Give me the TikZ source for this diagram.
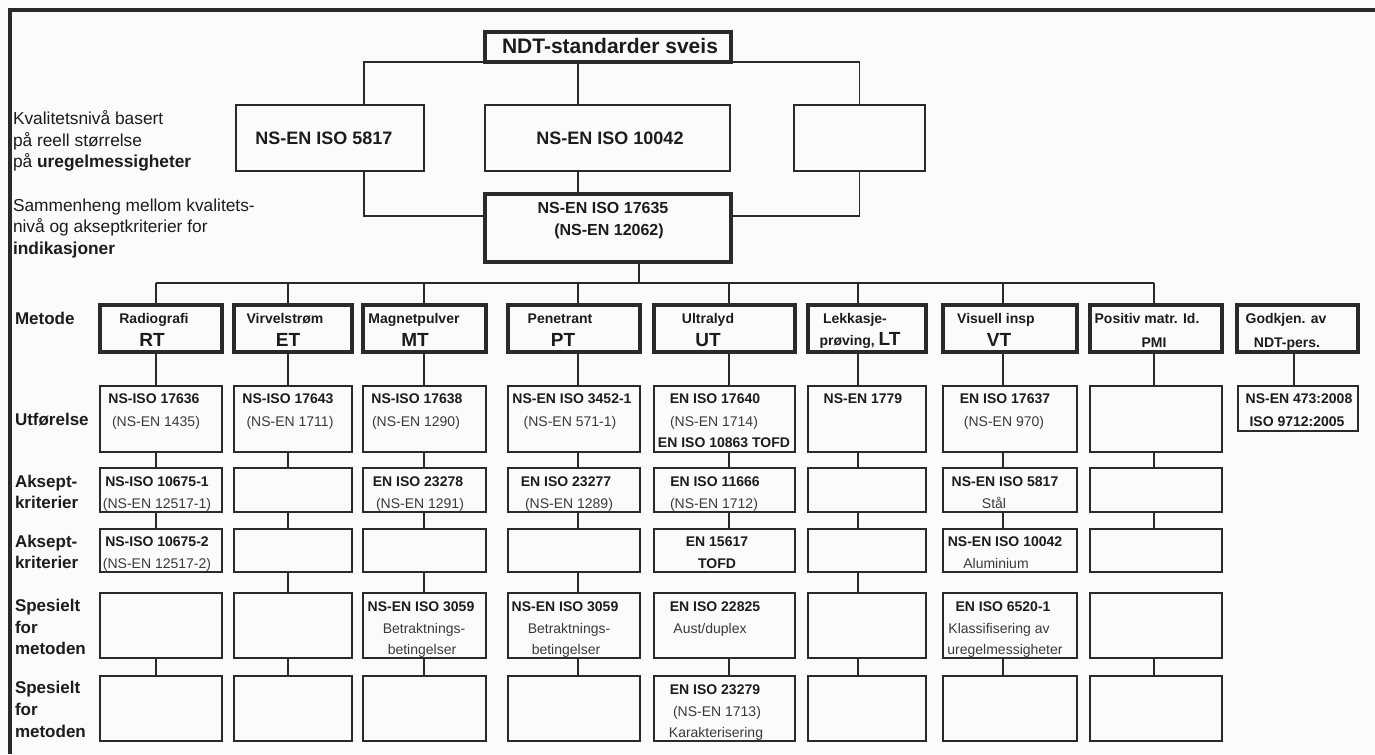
\documentclass[tikz,border=0pt]{standalone}
\usepackage{fontspec}
\setmainfont{Liberation Sans}
\usetikzlibrary{fit}
\definecolor{ink}{HTML}{2A2A2A}
\definecolor{txk}{HTML}{1C1C1C}
\definecolor{txr}{HTML}{3A3A3A}
\definecolor{bgc}{HTML}{FBFBFB}
\tikzset{
  boxn/.style={draw=ink, line width=1.1pt, inner sep=0pt, outer sep=0pt},
  boxk/.style={draw=ink, line width=2.5pt, inner sep=0pt, outer sep=0pt},
  lnk/.style={draw=ink, line width=1.05pt},
  frm/.style={draw=ink, line width=2.4pt},
  txtbase/.style={inner sep=0pt, outer sep=0pt, anchor=base},
  ttl/.style={txtbase, text=txk, font=\fontsize{15.75}{18}\selectfont\bfseries},
  hdr/.style={txtbase, text=txk, font=\fontsize{13.5}{16}\selectfont\bfseries},
  hdrs/.style={txtbase, text=txk, font=\fontsize{12}{14}\selectfont\bfseries},
  note/.style={txtbase, anchor=base west, text=txk, font=\fontsize{13}{15}\selectfont},
  rlab/.style={txtbase, anchor=base west, text=txk, font=\fontsize{12.75}{15}\selectfont\bfseries},
  mtop/.style={txtbase, text=txk, font=\fontsize{10.5}{12}\selectfont\bfseries},
  mbig/.style={txtbase, text=txk, font=\fontsize{14.25}{16}\selectfont\bfseries},
  cdb/.style={txtbase, text=txk, font=\fontsize{10.5}{12}\selectfont\bfseries},
  cdr/.style={txtbase, text=txr, font=\fontsize{10.5}{12}\selectfont},
}
\begin{document}
\begin{tikzpicture}[x=0.75pt,y=-0.75pt]
\useasboundingbox (0,0) rectangle (1375,754);
\fill[bgc] (0,0) rectangle (1375,754);
% frame
\draw[frm] (10,754) -- (10,10) -- (1375,10);

% ---------- top part ----------
\node[boxk, fit={(485,32)(731,62)}] (top) {};
\node[ttl] (topt) at (610,53) {NDT-standarder sveis};
\node[boxn, fit={(236,105)(424,171)}] (q1) {};
\node[hdr] (q1t) at (324,144.5) {NS-EN ISO 5817};
\node[boxn, fit={(485,105)(730,171)}] (q2) {};
\node[hdr] (q2t) at (610,144.5) {NS-EN ISO 10042};
\node[boxn, fit={(794,105)(925,171)}] (q3) {};
\node[boxk, fit={(485,194)(731,262)}] (sam) {};
\node[hdrs] (samt1) at (603,213) {NS-EN ISO 17635};
\node[hdrs] (samt2) at (609,235) {(NS-EN 12062)};

\coordinate (kA) at (364,0);
\coordinate (kB) at (578,0);
\coordinate (kD) at (0,216);
\draw[lnk] (top.south west) -| (q1.north -| kA);
\draw[lnk] (top.south east) -| (q3.north);
\draw[lnk] (top.south -| kB) -- (q2.north -| kB);
\draw[lnk] (q2.south -| kB) -- (sam.north -| kB);
\draw[lnk] (q1.south -| kA) |- (sam.west |- kD);
\draw[lnk] (q3.south) |- (sam.east |- kD);

% left notes
\node[note] (n1) at (13,124) {Kvalitetsnivå basert};
\node[note] (n2) at (13,146) {på reell størrelse};
\node[note] (n3) at (13,167) {på \textbf{uregelmessigheter}};
\node[note] (n4) at (13,211) {Sammenheng mellom kvalitets-};
\node[note] (n5) at (13,232) {nivå og akseptkriterier for};
\node[note] (n6) at (13,254) {\textbf{indikasjoner}};

% row labels
\node[rlab] (r0) at (15,324) {Metode};
\node[rlab] (r1) at (15,425) {Utførelse};
\node[rlab] (r2a) at (15,487) {Aksept-};
\node[rlab] (r2b) at (15,508) {kriterier};
\node[rlab] (r3a) at (15,547) {Aksept-};
\node[rlab] (r3b) at (15,568) {kriterier};
\node[rlab] (r4a) at (15,611) {Spesielt};
\node[rlab] (r4b) at (15,633) {for};
\node[rlab] (r4c) at (15,654) {metoden};
\node[rlab] (r5a) at (15,693) {Spesielt};
\node[rlab] (r5b) at (15,715) {for};
\node[rlab] (r5c) at (15,737) {metoden};

% ---------- bus ----------
\coordinate (cM) at (639,283);
\coordinate (cRT) at (156,283);
\coordinate (cET) at (288,283);
\coordinate (cMT) at (424,283);
\coordinate (cPT) at (578,283);
\coordinate (cUT) at (729,283);
\coordinate (cLT) at (858,283);
\coordinate (cVT) at (1003,283);
\coordinate (cPMI) at (1154,283);
\coordinate (cGK) at (1294,283);
\draw[lnk] (sam.south -| cM) -- (cM);
\draw[lnk] (cRT) -- (cPMI);

% ---------- method columns ----------
\foreach \n/\a/\b in {RT/100/222, ET/234/352, MT/363/486, PT/508/640, UT/654/795, LT/808/926, VT/943/1077, PMI/1090/1222} {
  \node[boxk, fit={(\a,305)(\b,352)}] (\n0) {};
  \node[boxn, fit={(\a,386)(\b,452)}] (\n1) {};
  \node[boxn, fit={(\a,468)(\b,512)}] (\n2) {};
  \node[boxn, fit={(\a,529)(\b,572)}] (\n3) {};
  \node[boxn, fit={(\a,593)(\b,658)}] (\n4) {};
  \node[boxn, fit={(\a,676)(\b,741)}] (\n5) {};
  \draw[lnk] (c\n) -- (\n0.north -| c\n);
  \draw[lnk] (\n0.south -| c\n) -- (\n1.north -| c\n);
  \draw[lnk] (\n1.south -| c\n) -- (\n2.north -| c\n);
  \draw[lnk] (\n2.south -| c\n) -- (\n3.north -| c\n);
  \draw[lnk] (\n4.south -| c\n) -- (\n5.north -| c\n);
}
\foreach \n in {ET, MT, PT, LT} {
  \draw[lnk] (\n3.south -| c\n) -- (\n4.north -| c\n);
}
% approval column
\node[boxk, fit={(1237,305)(1358,352)}] (GK0) {};
\node[boxn, fit={(1238,386)(1358,431)}] (GK1) {};
\draw[lnk] (GK0.south -| cGK) -- (GK1.north -| cGK);

% method texts
\node[mtop] (RTa) at (154,323) {Radiografi};
\node[mbig] (RTb) at (152,346) {RT};
\node[mtop] (ETa) at (285,323) {Virvelstrøm};
\node[mbig] (ETb) at (288,346) {ET};
\node[mtop] (MTa) at (414,323) {Magnetpulver};
\node[mbig] (MTb) at (415,346) {MT};
\node[mtop] (PTa) at (560,323) {Penetrant};
\node[mbig] (PTb) at (563,346) {PT};
\node[mtop] (UTa) at (708,323) {Ultralyd};
\node[mbig] (UTb) at (708,346) {UT};
\node[mtop] (LTa) at (855,323) {Lekkasje-};
\node[mtop] (LTb) at (860,345) {prøving, {\fontsize{14.25}{16}\selectfont LT}};
\node[mtop] (VTa) at (996,323) {Visuell insp};
\node[mbig] (VTb) at (999,346) {VT};
\node[mtop] (PMIa) at (1147,323) {Positiv matr. Id.};
\node[mtop] (PMIb) at (1154,347) {PMI};
\node[mtop] (GKa) at (1286,323) {Godkjen. av};
\node[mtop] (GKb) at (1287,347) {NDT-pers.};

% Utførelse
\node[cdb] (RT1a) at (154,403) {NS-ISO 17636};
\node[cdr] (RT1b) at (156,426) {(NS-EN 1435)};
\node[cdb] (ET1a) at (288,403) {NS-ISO 17643};
\node[cdr] (ET1b) at (290,426) {(NS-EN 1711)};
\node[cdb] (MT1a) at (417,403) {NS-ISO 17638};
\node[cdr] (MT1b) at (416,426) {(NS-EN 1290)};
\node[cdb] (PT1a) at (572,403) {NS-EN ISO 3452-1};
\node[cdr] (PT1b) at (570,426) {(NS-EN 571-1)};
\node[cdb] (UT1a) at (715,403) {EN ISO 17640};
\node[cdr] (UT1b) at (714,426) {(NS-EN 1714)};
\node[cdb] (UT1c) at (724,447) {EN ISO 10863 TOFD};
\node[cdb] (LT1a) at (863,403) {NS-EN 1779};
\node[cdb] (VT1a) at (1005,403) {EN ISO 17637};
\node[cdr] (VT1b) at (1004,426) {(NS-EN 970)};
\node[cdb] (GK1a) at (1299,403) {NS-EN 473:2008};
\node[cdb] (GK1b) at (1297,426) {ISO 9712:2005};

% Aksept 1
\node[cdb] (RT2a) at (157,486) {NS-ISO 10675-1};
\node[cdr] (RT2b) at (157,508) {(NS-EN 12517-1)};
\node[cdb] (MT2a) at (418,486) {EN ISO 23278};
\node[cdr] (MT2b) at (420,508) {(NS-EN 1291)};
\node[cdb] (PT2a) at (566,486) {EN ISO 23277};
\node[cdr] (PT2b) at (569,508) {(NS-EN 1289)};
\node[cdb] (UT2a) at (715,486) {EN ISO 11666};
\node[cdr] (UT2b) at (714,508) {(NS-EN 1712)};
\node[cdb] (VT2a) at (1005,486) {NS-EN ISO 5817};
\node[cdr] (VT2b) at (994,508) {Stål};

% Aksept 2
\node[cdb] (RT3a) at (157,546) {NS-ISO 10675-2};
\node[cdr] (RT3b) at (157,568) {(NS-EN 12517-2)};
\node[cdb] (UT3a) at (717,546) {EN 15617};
\node[cdb] (UT3b) at (717,568) {TOFD};
\node[cdb] (VT3a) at (1005,546) {NS-EN ISO 10042};
\node[cdr] (VT3b) at (996,568) {Aluminium};

% Spesielt 1
\node[cdb] (MT4a) at (421,611) {NS-EN ISO 3059};
\node[cdr] (MT4b) at (424,633) {Betraktnings-};
\node[cdr] (MT4c) at (422,654) {betingelser};
\node[cdb] (PT4a) at (565,611) {NS-EN ISO 3059};
\node[cdr] (PT4b) at (569,633) {Betraktnings-};
\node[cdr] (PT4c) at (566,654) {betingelser};
\node[cdb] (UT4a) at (715,611) {EN ISO 22825};
\node[cdr] (UT4b) at (710,633) {Aust/duplex};
\node[cdb] (VT4a) at (1003,611) {EN ISO 6520-1};
\node[cdr] (VT4b) at (999,633) {Klassifisering av};
\node[cdr] (VT4c) at (1005,654) {uregelmessigheter};

% Spesielt 2
\node[cdb] (UT5a) at (715,694) {EN ISO 23279};
\node[cdr] (UT5b) at (717,716) {(NS-EN 1713)};
\node[cdr] (UT5c) at (716,737) {Karakterisering};
\end{tikzpicture}
\end{document}
